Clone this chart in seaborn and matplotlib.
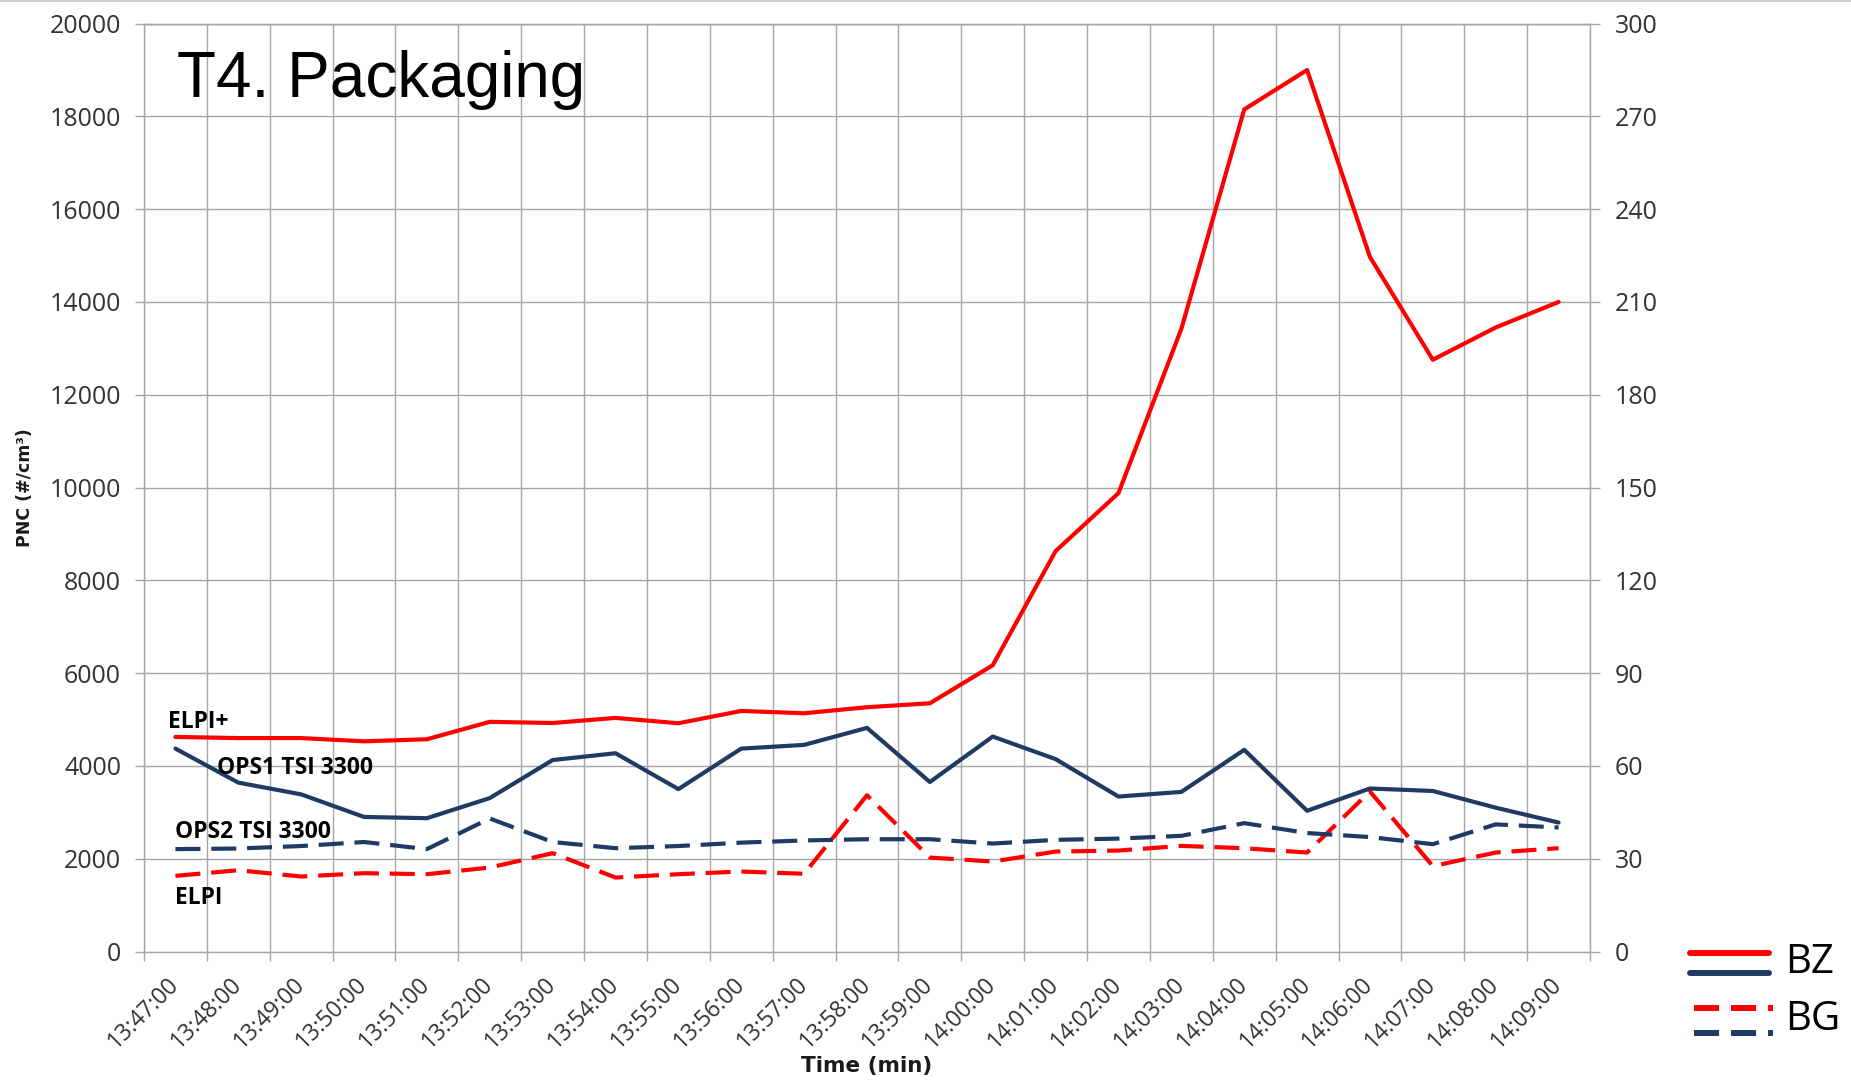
import numpy as np
import matplotlib
matplotlib.use("Agg")
import matplotlib.pyplot as plt
import seaborn as sns
from matplotlib.lines import Line2D

# ---- data -------------------------------------------------------------
times = ["13:47:00", "13:48:00", "13:49:00", "13:50:00", "13:51:00", "13:52:00",
         "13:53:00", "13:54:00", "13:55:00", "13:56:00", "13:57:00", "13:58:00",
         "13:59:00", "14:00:00", "14:01:00", "14:02:00", "14:03:00", "14:04:00",
         "14:05:00", "14:06:00", "14:07:00", "14:08:00", "14:09:00"]

# ELPI+ in the breathing zone (left axis, #/cm3)
elpi_plus_bz = [4625, 4600, 4600, 4530, 4575, 4950, 4925, 5035, 4920, 5185, 5135, 5265,
                5350, 6170, 8630, 9880, 13420, 18150, 19000, 14970, 12755, 13450, 14000]
# ELPI background (left axis, #/cm3)
elpi_bg = [1630, 1752, 1616, 1688, 1666, 1810, 2119, 1594, 1666, 1724, 1675, 3368,
           2025, 1939, 2154, 2176, 2276, 2226, 2133, 3450, 1840, 2133, 2226]
# OPS1 TSI 3300 in the breathing zone (right axis, #/cm3)
ops1_bz = [65.6, 54.6, 50.8, 43.5, 43.1, 49.6, 61.9, 64.1, 52.5, 65.6, 66.8, 72.3,
           54.8, 69.5, 62.2, 50.1, 51.6, 65.2, 45.5, 52.7, 51.9, 46.5, 41.7]
# OPS2 TSI 3300 background (right axis, #/cm3)
ops2_bg = [33.1, 33.3, 34.1, 35.4, 33.1, 43.0, 35.4, 33.4, 34.1, 35.2, 35.9, 36.3,
           36.3, 34.9, 36.1, 36.5, 37.4, 41.5, 38.3, 37.0, 34.7, 41.1, 40.1]

left_ticks = list(range(0, 20001, 2000))
right_ticks = list(range(0, 301, 30))

# ---- style ------------------------------------------------------------
sns.set_theme(style="white")
plt.rcParams['font.family'] = ['Open Sans', 'DejaVu Sans']

RED = "#ff0000"
NAVY = "#1f3a63"
GRID = "#a6a6a6"
TICKC = "#333333"
LW = 3.0
DASH = (0, (6.0, 2.6))

W, H = 1851, 1082
fig = plt.figure(figsize=(W / 100, H / 100), dpi=100)
fig.patch.set_facecolor("white")

x0, x1, y0, y1 = 144, 1590, 23.6, 951.5
ax = fig.add_axes([x0 / W, 1 - y1 / H, (x1 - x0) / W, (y1 - y0) / H])
ax2 = ax.twinx()

pos = np.arange(len(times))

sns.lineplot(x=pos, y=elpi_plus_bz, ax=ax, color=RED, lw=LW)
sns.lineplot(x=pos, y=elpi_bg, ax=ax, color=RED, lw=LW, linestyle=DASH)
sns.lineplot(x=pos, y=ops1_bz, ax=ax2, color=NAVY, lw=LW)
sns.lineplot(x=pos, y=ops2_bg, ax=ax2, color=NAVY, lw=LW, linestyle=DASH)

ax.set_xlim(-0.5, len(times) - 0.5)
ax.set_ylim(0, 20000)
ax2.set_ylim(0, 300)

# category labels at centres, gridlines / tick marks at boundaries
ax.set_xticks(pos)
ax.set_xticklabels(times, rotation=45, ha="right", va="center",
                   rotation_mode="anchor", fontsize=16.5, color=TICKC)
ax.set_xticks(np.arange(-0.5, len(times), 1), minor=True)
ax.tick_params(axis="x", which="major", length=0, pad=21)
ax.tick_params(axis="x", which="minor", length=6.5, width=1.0, color=GRID,
               direction="out", bottom=True)

ax.set_yticks(left_ticks)
ax.set_yticklabels([str(v) for v in left_ticks], fontsize=18, color=TICKC)
ax.tick_params(axis="y", length=6.5, width=1.0, color=GRID, direction="out",
               pad=10, left=True)

ax2.set_yticks(right_ticks)
ax2.set_yticklabels([str(v) for v in right_ticks], fontsize=18, color=TICKC)
ax2.tick_params(axis="y", length=7, width=1.0, color=GRID, direction="out",
                pad=11, right=True)

ax.grid(True, which="minor", axis="x", color=GRID, lw=1.0)
ax.grid(True, which="major", axis="y", color=GRID, lw=1.0)
ax.grid(False, which="major", axis="x")
ax2.grid(False)
ax.set_axisbelow(True)

ax.set_xlabel("")
ax.set_ylabel("")
ax2.set_ylabel("")

for a in (ax, ax2):
    for side in ("top", "left", "right", "bottom"):
        a.spines[side].set_color(GRID)
        a.spines[side].set_linewidth(1.0)
ax.spines["right"].set_visible(False)
ax2.spines["left"].set_visible(False)
ax2.spines["bottom"].set_visible(False)

# ---- texts ------------------------------------------------------------
def fx(px):
    return px / W

def fy(py):
    return 1 - py / H

fig.text(fx(177), fy(97), "T4. Packaging", fontsize=46,
         family=["Liberation Sans", "DejaVu Sans"], color="black",
         ha="left", va="baseline")

lab_kw = dict(fontsize=16.5, fontweight="bold", color="black", ha="left", va="center")
fig.text(fx(168), fy(722), "ELPI+", **lab_kw)
fig.text(fx(217), fy(768), "OPS1 TSI 3300", **lab_kw)
fig.text(fx(175), fy(832), "OPS2 TSI 3300", **lab_kw)
fig.text(fx(175), fy(898), "ELPI", **lab_kw)

fig.text(fx(25), fy(488), "PNC (#/cm³)", rotation=90, fontsize=12.5,
         fontweight="bold", family=["DejaVu Sans"], color="#1a1a1a",
         ha="center", va="center")
fig.text(fx(867), fy(1066), "Time (min)", fontsize=15.5, fontweight="bold",
         family=["DejaVu Sans"], color="#1a1a1a", ha="center", va="center")

# ---- legend keys ------------------------------------------------------
LEG_LW = 4.3
LEG_DASH = (0, (4.2, 2.0))
fig.add_artist(Line2D([fx(1690), fx(1769)], [fy(953)] * 2, color=RED, lw=LEG_LW))
fig.add_artist(Line2D([fx(1690), fx(1769)], [fy(973)] * 2, color=NAVY, lw=LEG_LW))
fig.add_artist(Line2D([fx(1694), fx(1773)], [fy(1008)] * 2, color=RED, lw=LEG_LW,
                      linestyle=LEG_DASH))
fig.add_artist(Line2D([fx(1694), fx(1773)], [fy(1033)] * 2, color=NAVY, lw=LEG_LW,
                      linestyle=LEG_DASH))
fig.text(fx(1785), fy(963), "BZ", fontsize=29, color="black", ha="left", va="center")
fig.text(fx(1785), fy(1020), "BG", fontsize=29, color="black", ha="left", va="center")

# thin frame line along the top edge
fig.add_artist(Line2D([0, 1], [1 - 1 / H] * 2, color="#d0d0d0", lw=1.5))

fig.savefig("out.png", dpi=100, facecolor="white")
